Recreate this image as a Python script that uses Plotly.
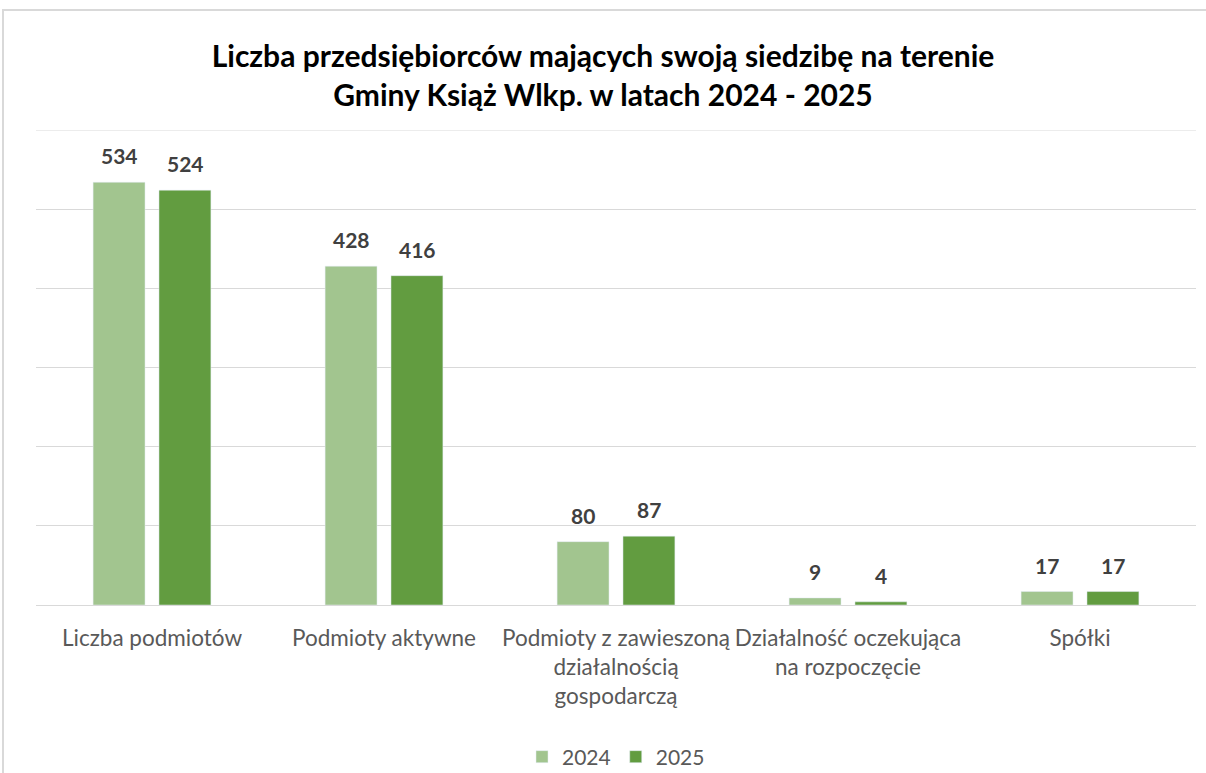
import plotly.graph_objects as go

categories = [
    "Liczba podmiotów",
    "Podmioty aktywne",
    "Podmioty z zawieszoną<br>działalnością<br>gospodarczą",
    "Działalność oczekująca<br>na rozpoczęcie",
    "Spółki",
]
values_2024 = [534, 428, 80, 9, 17]
values_2025 = [524, 416, 87, 4, 17]
series_names = ["2024", "2025"]

title_text = ("Liczba przedsiębiorców mających swoją siedzibę na terenie<br>"
              "Gminy Książ Wlkp. w latach 2024 - 2025")

FONT = "Lato"
c2024 = "#A2C58F"
c2025 = "#629C40"
Y_MAX = 600

fig = go.Figure()
series = [(series_names[0], values_2024, c2024, -33), (series_names[1], values_2025, c2025, 33)]
for name, vals, col, shift in series:
    fig.add_trace(go.Bar(x=categories, y=vals, name=name, marker_color=col))
    for cat, v in zip(categories, vals):
        fig.add_annotation(x=cat, y=v, text=str(v), showarrow=False, xshift=shift,
                           yanchor="bottom", yshift=12,
                           font=dict(family=FONT, size=21, color="#404040", weight="bold"))

L, R, T, B = 36, 10, 130, 168
W, H = 1206, 773
pw, ph = W - L - R, H - T - B

def px(x):
    return (x - L) / pw

def py(y):
    return (H - B - y) / ph

fig.add_shape(type="path", xref="paper", yref="paper",
              path=f"M {px(3)} {py(780)} L {px(3)} {py(10)} L {px(1210)} {py(10)}",
              line=dict(color="#D9D9D9", width=2))
# top gridline (at the axis maximum)
fig.add_shape(type="line", xref="paper", yref="y", x0=0, x1=1, y0=Y_MAX, y1=Y_MAX,
              line=dict(color="#D9D9D9", width=1), layer="below")

fig.update_layout(
    width=W, height=H,
    margin=dict(l=L, r=R, t=T, b=B, autoexpand=False),
    paper_bgcolor="white", plot_bgcolor="white",
    barmode="group", bargap=0.432, bargroupgap=0.212,
    title=dict(text=title_text, x=0.5, xanchor="center", y=(H - 67) / H, yanchor="middle",
               font=dict(family=FONT, size=30, color="#000000", weight="bold")),
    xaxis=dict(showgrid=False, showline=False, ticks="", ticklabelstandoff=17,
               tickangle=0, automargin=False,
               tickfont=dict(family=FONT, size=22.5, color="#595959")),
    yaxis=dict(range=[0, Y_MAX], dtick=100, showticklabels=False, showgrid=True,
               automargin=False,
               gridcolor="#D9D9D9", gridwidth=1, zeroline=True, zerolinecolor="#D9D9D9",
               zerolinewidth=1),
    legend=dict(orientation="h", x=0.5, xanchor="center", y=py(757), yanchor="middle",
                font=dict(family=FONT, size=21, color="#595959"), itemwidth=30,
                tracegroupgap=0),
    showlegend=True,
)

fig.write_html("out.html", config={"displayModeBar": False},
               post_script="document.body.style.margin='0';")
